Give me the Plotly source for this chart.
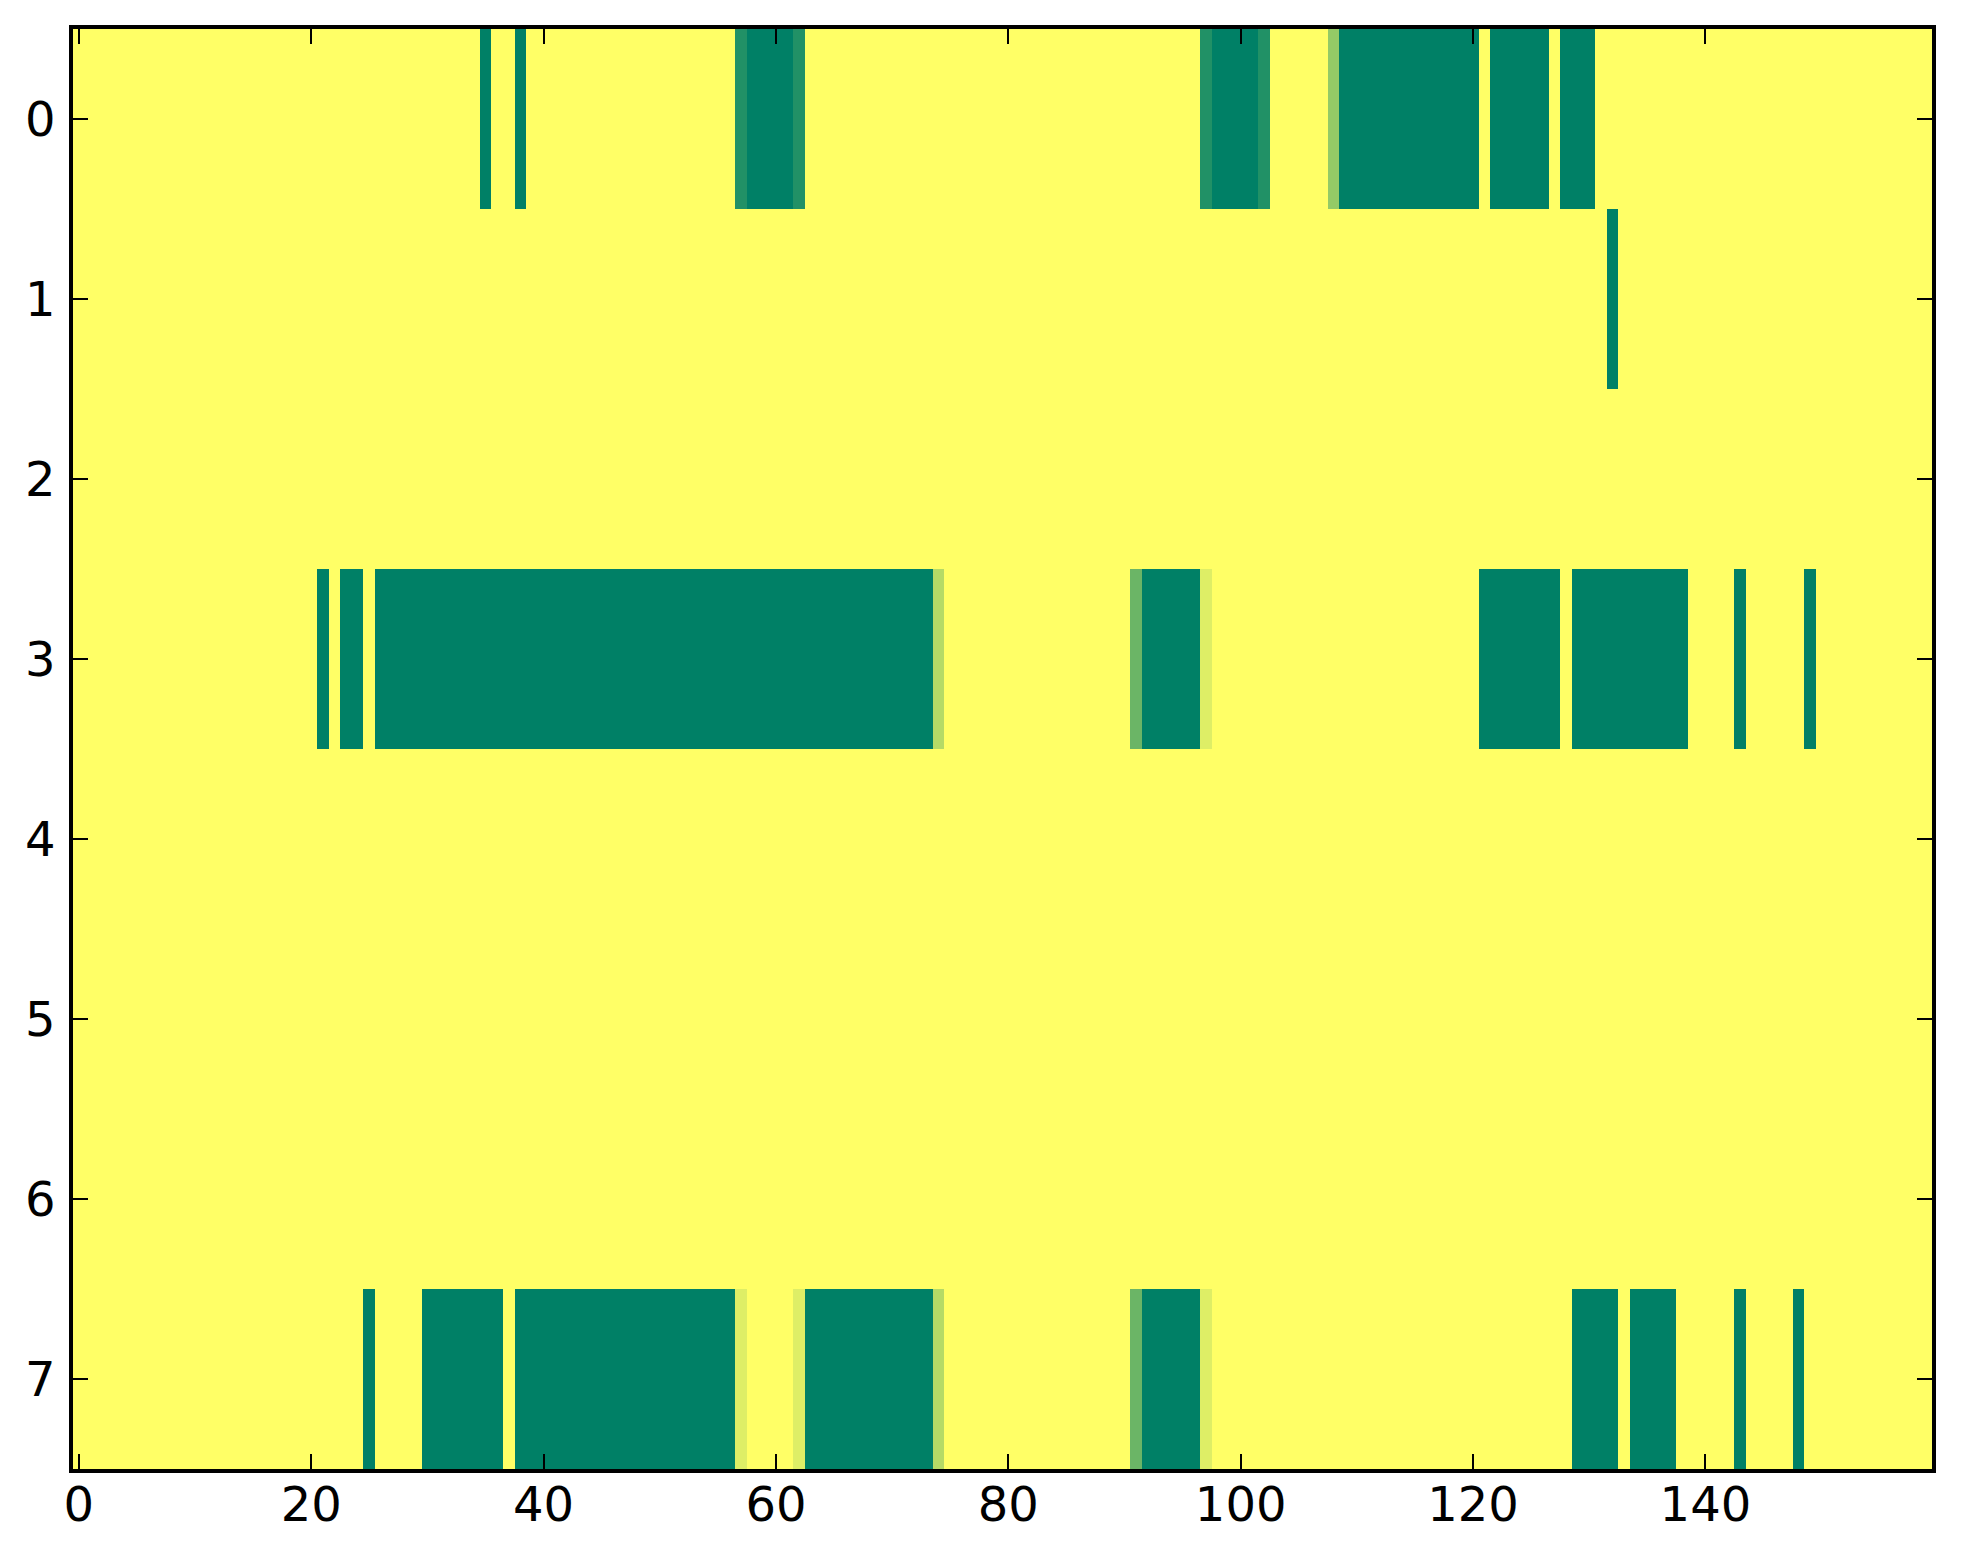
import numpy as np
import plotly.graph_objects as go

# grid size (rows x columns of the image)
n_rows = 8
n_cols = 160

# cells that are not at the top value 1.0, per row: (first col, last col, value)
row0_runs = [(35, 35, 0.0), (38, 38, 0.0), (57, 57, 0.13), (58, 61, 0.0), (62, 62, 0.13),
             (97, 97, 0.13), (98, 101, 0.0), (102, 102, 0.13), (108, 108, 0.58),
             (109, 120, 0.0), (122, 126, 0.0), (128, 130, 0.0)]
row1_runs = [(132, 132, 0.0)]
row2_runs = []
row3_runs = [(21, 21, 0.0), (23, 24, 0.0), (26, 73, 0.0), (74, 74, 0.71), (91, 91, 0.42),
             (92, 96, 0.0), (97, 97, 0.87), (121, 127, 0.0), (129, 138, 0.0),
             (143, 143, 0.0), (149, 149, 0.0)]
row4_runs = []
row5_runs = []
row6_runs = []
row7_runs = [(25, 25, 0.0), (30, 36, 0.0), (38, 56, 0.0), (57, 57, 0.87), (62, 62, 0.87),
             (63, 73, 0.0), (74, 74, 0.71), (91, 91, 0.42), (92, 96, 0.0), (97, 97, 0.87),
             (129, 132, 0.0), (134, 137, 0.0), (143, 143, 0.0), (148, 148, 0.0)]

x_ticks = [0, 20, 40, 60, 80, 100, 120, 140]
y_ticks = [0, 1, 2, 3, 4, 5, 6, 7]

all_runs = [row0_runs, row1_runs, row2_runs, row3_runs,
            row4_runs, row5_runs, row6_runs, row7_runs]

z = np.ones((n_rows, n_cols))
for r, runs in enumerate(all_runs):
    for a, b, v in runs:
        z[r, a:b + 1] = v

# matplotlib "summer" colormap
summer = [[0.0, "rgb(0,128,102)"], [1.0, "rgb(255,255,102)"]]

fig = go.Figure(go.Heatmap(
    z=z,
    x=np.arange(n_cols),
    y=np.arange(n_rows),
    colorscale=summer,
    zmin=0, zmax=1,
    showscale=False,
))

axis_style = dict(
    showgrid=False, zeroline=False,
    showline=True, linecolor="black", linewidth=3.5, mirror="ticks",
    ticks="inside", ticklen=15, tickwidth=2, tickcolor="black",
)

fig.update_xaxes(range=[-0.5, n_cols - 0.5], tickvals=x_ticks,
                 ticklabelstandoff=-9, **axis_style)
fig.update_yaxes(range=[n_rows - 0.5, -0.5], tickvals=y_ticks,
                 ticklabelstandoff=4, **axis_style)

# the page body adds an 8px margin, so the figure is 8px smaller
fig.update_layout(
    width=1955, height=1556,
    margin=dict(l=65, r=31, t=21, b=95),
    paper_bgcolor="white", plot_bgcolor="white",
    font=dict(family="DejaVu Sans", size=48, color="black"),
)

fig.write_html("out.html")
